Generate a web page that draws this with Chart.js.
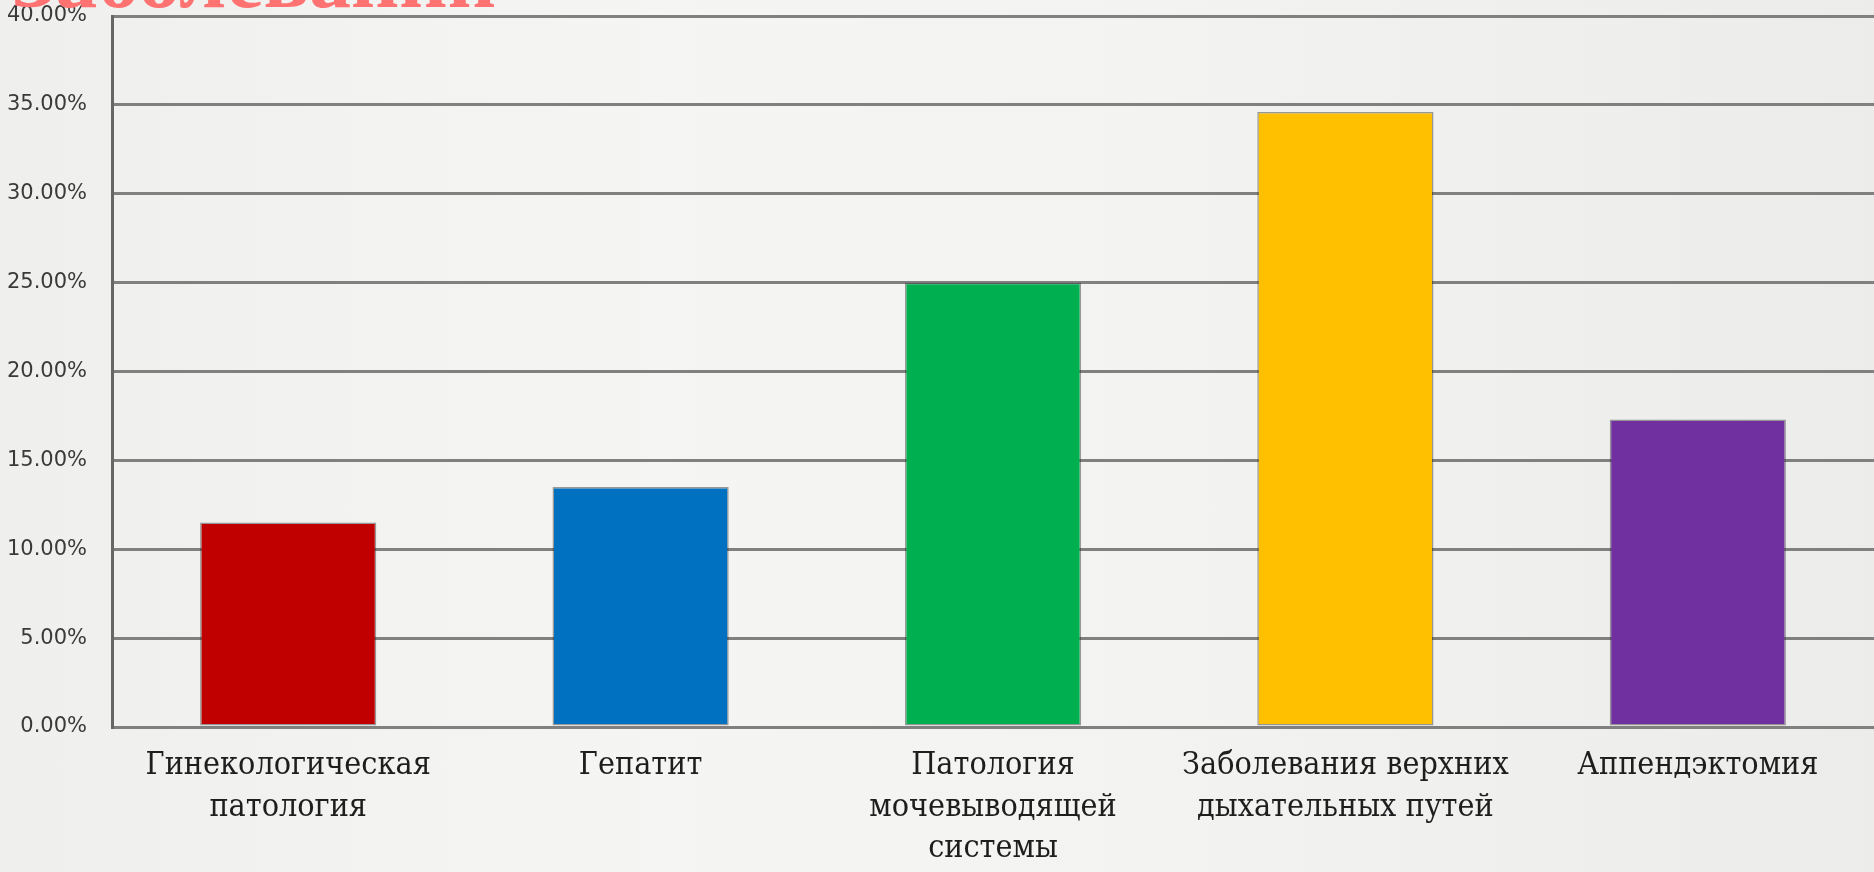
<!DOCTYPE html>
<html lang="ru">
<head>
<meta charset="utf-8">
<title>Заболевания</title>
<script src="https://cdn.jsdelivr.net/npm/chart.js@4"></script>
<style>
    html, body {
        margin: 0;
        padding: 0;
        overflow: hidden;
    }
    body {
        width: 1874px;
        height: 872px;
        background: linear-gradient(90deg, #efefee 0%, #f5f5f4 35%, #f3f3f2 60%, #ececeb 100%);
    }
    .chart-wrap {
        position: absolute;
        left: 0;
        top: 0;
        width: 1874px;
        height: 872px;
    }
</style>
</head>
<body>
<div class="chart-wrap">
    <canvas id="diseaseChart"></canvas>
</div>
<script>
// ============== DATA ==============
const titleText = 'Заболеваний';

const categories = [
    ['Гинекологическая', 'патология'],
    ['Гепатит'],
    ['Патология', 'мочевыводящей', 'системы'],
    ['Заболевания верхних', 'дыхательных путей'],
    ['Аппендэктомия']
];

const shares = [11.5, 13.5, 25.0, 34.6, 17.3];

const barColors = ['#c00000', '#0070c0', '#00b050', '#ffc000', '#7030a0'];

const yMin = 0;
const yMax = 40;
const yStep = 5;

// Title sits half off the top of the slide, drawn straight onto the canvas
const slideTitle = {
    id: 'slideTitle',
    afterDraw(chart) {
        const ctx = chart.ctx;
        ctx.save();
        ctx.font = 'bold 84px "Liberation Serif", serif';
        ctx.fillStyle = '#ff7272';
        ctx.textAlign = 'left';
        ctx.textBaseline = 'alphabetic';
        ctx.fillText(titleText, 11, 7);
        ctx.restore();
    }
};

// ============== CHART ==============
const ctx = document.getElementById('diseaseChart').getContext('2d');
const diseaseChart = new Chart(ctx, {
    type: 'bar',
    data: {
        labels: categories,
        datasets: [{
            data: shares,
            backgroundColor: barColors,
            borderColor: 'rgba(40, 40, 40, 0.45)',
            borderWidth: 1.5,
            borderSkipped: false,
            categoryPercentage: 0.5,
            barPercentage: 1.0
        }]
    },
    options: {
        responsive: true,
        maintainAspectRatio: false,
        animation: false,
        devicePixelRatio: 1,
        layout: {
            padding: { top: 16, right: 0, bottom: 0, left: 0 }
        },
        plugins: {
            legend: { display: false },
            tooltip: { enabled: false }
        },
        scales: {
            x: {
                afterFit: scale => { scale.height = 145; },
                grid: { display: false, drawTicks: false },
                border: { display: false },
                ticks: {
                    padding: 18,
                    color: '#1e1e1e',
                    maxRotation: 0,
                    autoSkip: false,
                    font: { family: '"DejaVu Serif Condensed", "DejaVu Serif", serif', size: 32, lineHeight: 1.3 }
                }
            },
            y: {
                min: yMin,
                max: yMax,
                afterFit: scale => {
                    // fixed axis width; keep label padding from pushing the plot down
                    scale.width = 112;
                    scale.paddingTop = 10;
                    scale.paddingBottom = 10;
                },
                grid: {
                    color: '#808080',
                    lineWidth: 3,
                    drawTicks: false
                },
                border: {
                    display: true,
                    color: '#666666',
                    width: 3
                },
                ticks: {
                    stepSize: yStep,
                    padding: 25,
                    color: '#3a3a3a',
                    font: { family: '"DejaVu Sans", sans-serif', size: 21 },
                    callback: value => value.toFixed(2) + '%'
                }
            }
        }
    },
    plugins: [slideTitle]
});
</script>
</body>
</html>
